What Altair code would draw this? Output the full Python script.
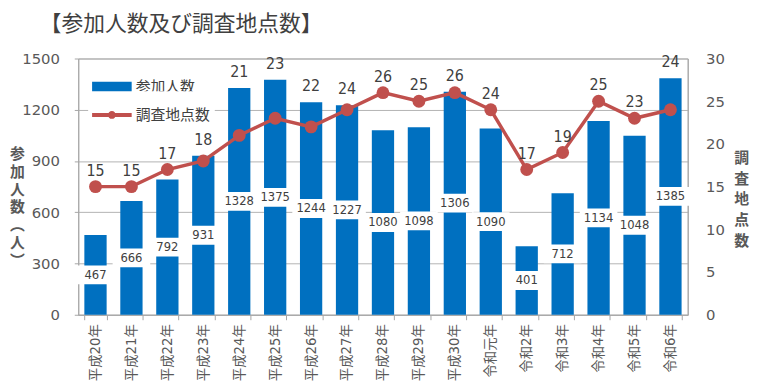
import altair as alt
import pandas as pd

years = ["平成20年", "平成21年", "平成22年", "平成23年", "平成24年", "平成25年",
         "平成26年", "平成27年", "平成28年", "平成29年", "平成30年", "令和元年",
         "令和2年", "令和3年", "令和4年", "令和5年", "令和6年"]
participants = [467, 666, 792, 931, 1328, 1375, 1244, 1227, 1080, 1098, 1306,
                1090, 401, 712, 1134, 1048, 1385]
sites = [15, 15, 17, 18, 21, 23, 22, 24, 26, 25, 26, 24, 17, 19, 25, 23, 24]
left_ticks = [0, 300, 600, 900, 1200, 1500]
right_ticks = [0, 5, 10, 15, 20, 25, 30]

df = pd.DataFrame({"year": years, "participants": participants, "sites": sites})

FONT_NUM = "DejaVu Sans, Noto Sans CJK JP, sans-serif"
FONT_JP = "Noto Sans CJK JP, sans-serif"
NARROW = "Liberation Sans Narrow, DejaVu Sans Condensed, sans-serif"
GRAY = "#595959"
DARK = "#404040"
LINE = "#A6A6A6"
BLUE = "#0070C0"
RED = "#C0504D"

x = alt.X("year:N", sort=years,
          scale=alt.Scale(paddingInner=0.38, paddingOuter=0.17),
          axis=alt.Axis(title=None, labelAngle=270, labelFont=FONT_NUM,
                        labelFontSize=13.5, labelColor=GRAY, tickBand="extent",
                        tickSize=5, tickColor=LINE, domainColor=LINE,
                        labelPadding=4))

axL = alt.Axis(values=left_ticks, format="d",
               title=["参", "加", "人", "数", "︵", "人", "︶"],
               titleAngle=0, titleX=-62, titleY=89, titleAlign="center",
               titleBaseline="top", titleFont=FONT_JP, titleFontSize=15,
               titleFontWeight="bold", titleColor=GRAY, titleLineHeight=18,
               labelFont=FONT_NUM, labelFontSize=15, labelColor=GRAY,
               labelPadding=15, tickSize=4, tickColor=LINE, domainColor=LINE,
               grid=True, gridColor="#B3B3B3")
scL = alt.Scale(domain=[0, 1500])

axR = alt.Axis(orient="right", values=right_ticks, format="d",
               title=list("調査地点数"),
               titleAngle=0, titleX=54, titleY=93, titleAlign="center",
               titleBaseline="top", titleFont=FONT_JP, titleFontSize=15,
               titleFontWeight="bold", titleColor=GRAY, titleLineHeight=21,
               labelFont=FONT_NUM, labelFontSize=15, labelColor=GRAY,
               labelPadding=18, ticks=False, domainColor=LINE, grid=False)
scR = alt.Scale(domain=[0, 30])

base = alt.Chart(df)

bars = base.transform_calculate(s="'参加人数'").mark_bar().encode(
    x=x,
    y=alt.Y("participants:Q", scale=scL, axis=axL),
    color=alt.Color("s:N", scale=alt.Scale(domain=["参加人数"], range=[BLUE]),
                    legend=alt.Legend(title=None, orient="none", legendX=10, legendY=5,
                                      symbolType="M-1,-0.28H1V0.28H-1Z", symbolSize=1600,
                                      symbolStrokeWidth=0, labelFont=FONT_JP,
                                      labelFontSize=15, labelColor=DARK, labelOffset=4,
                                      fillColor="white", padding=4)))

boxes = base.transform_calculate(half="datum.participants / 2").mark_point(
    shape="M-1,-0.5H1V0.5H-1Z", filled=True, color="white", opacity=1,
    size=1444, strokeWidth=0).encode(
    x=x, y=alt.Y("half:Q", scale=scL, axis=axL))

btext = base.transform_calculate(half="datum.participants / 2").mark_text(
    font=NARROW, fontSize=13, fontWeight="normal", color=DARK).encode(
    x=x, y=alt.Y("half:Q", scale=scL, axis=axL), text="participants:Q")

line = base.mark_line(color=RED, strokeWidth=3.5).encode(
    x=x, y=alt.Y("sites:Q", scale=scR, axis=axR))

points = base.transform_calculate(s2="'調査地点数'").mark_circle(size=169, opacity=1).encode(
    x=x, y=alt.Y("sites:Q", scale=scR, axis=axR),
    color=alt.Color("s2:N", scale=alt.Scale(domain=["調査地点数"], range=[RED]),
                    legend=alt.Legend(title=None, orient="none", legendX=10, legendY=33,
                                      symbolType="M-1,-0.1H1V0.1H-1Z M0.2,0A0.2,0.2,0,1,1,-0.2,0A0.2,0.2,0,1,1,0.2,0Z",
                                      symbolSize=1600, symbolStrokeWidth=0,
                                      labelFont=FONT_JP, labelFontSize=15,
                                      labelColor=DARK, labelOffset=4,
                                      fillColor="white", padding=4)))

# label sits above whichever is higher: the point or the bar top (1500 <-> 30)
ltext = base.transform_calculate(
    lv="max(datum.sites, datum.participants / 50)"
).mark_text(dy=-16, font=NARROW, fontSize=16, fontWeight="normal", color=DARK).encode(
    x=x, y=alt.Y("lv:Q", scale=scR, axis=axR), text="sites:Q")

left = alt.layer(bars, boxes, btext)
right = alt.layer(line, points, ltext)

chart = alt.layer(left, right).resolve_scale(
    y="independent", color="independent"
).properties(
    width=616, height=259,
    title=alt.TitleParams("【参加人数及び調査地点数】", anchor="start", frame="group",
                          dx=-39, font=FONT_JP, fontSize=22, fontWeight="normal",
                          color=DARK, offset=16),
    autosize=alt.AutoSizeParams(type="none"),
    padding={"left": 71, "top": 49, "right": 66, "bottom": 75},
).configure_view(stroke=LINE)

chart.save("out.html", embed_options={"renderer": "svg", "actions": False})
